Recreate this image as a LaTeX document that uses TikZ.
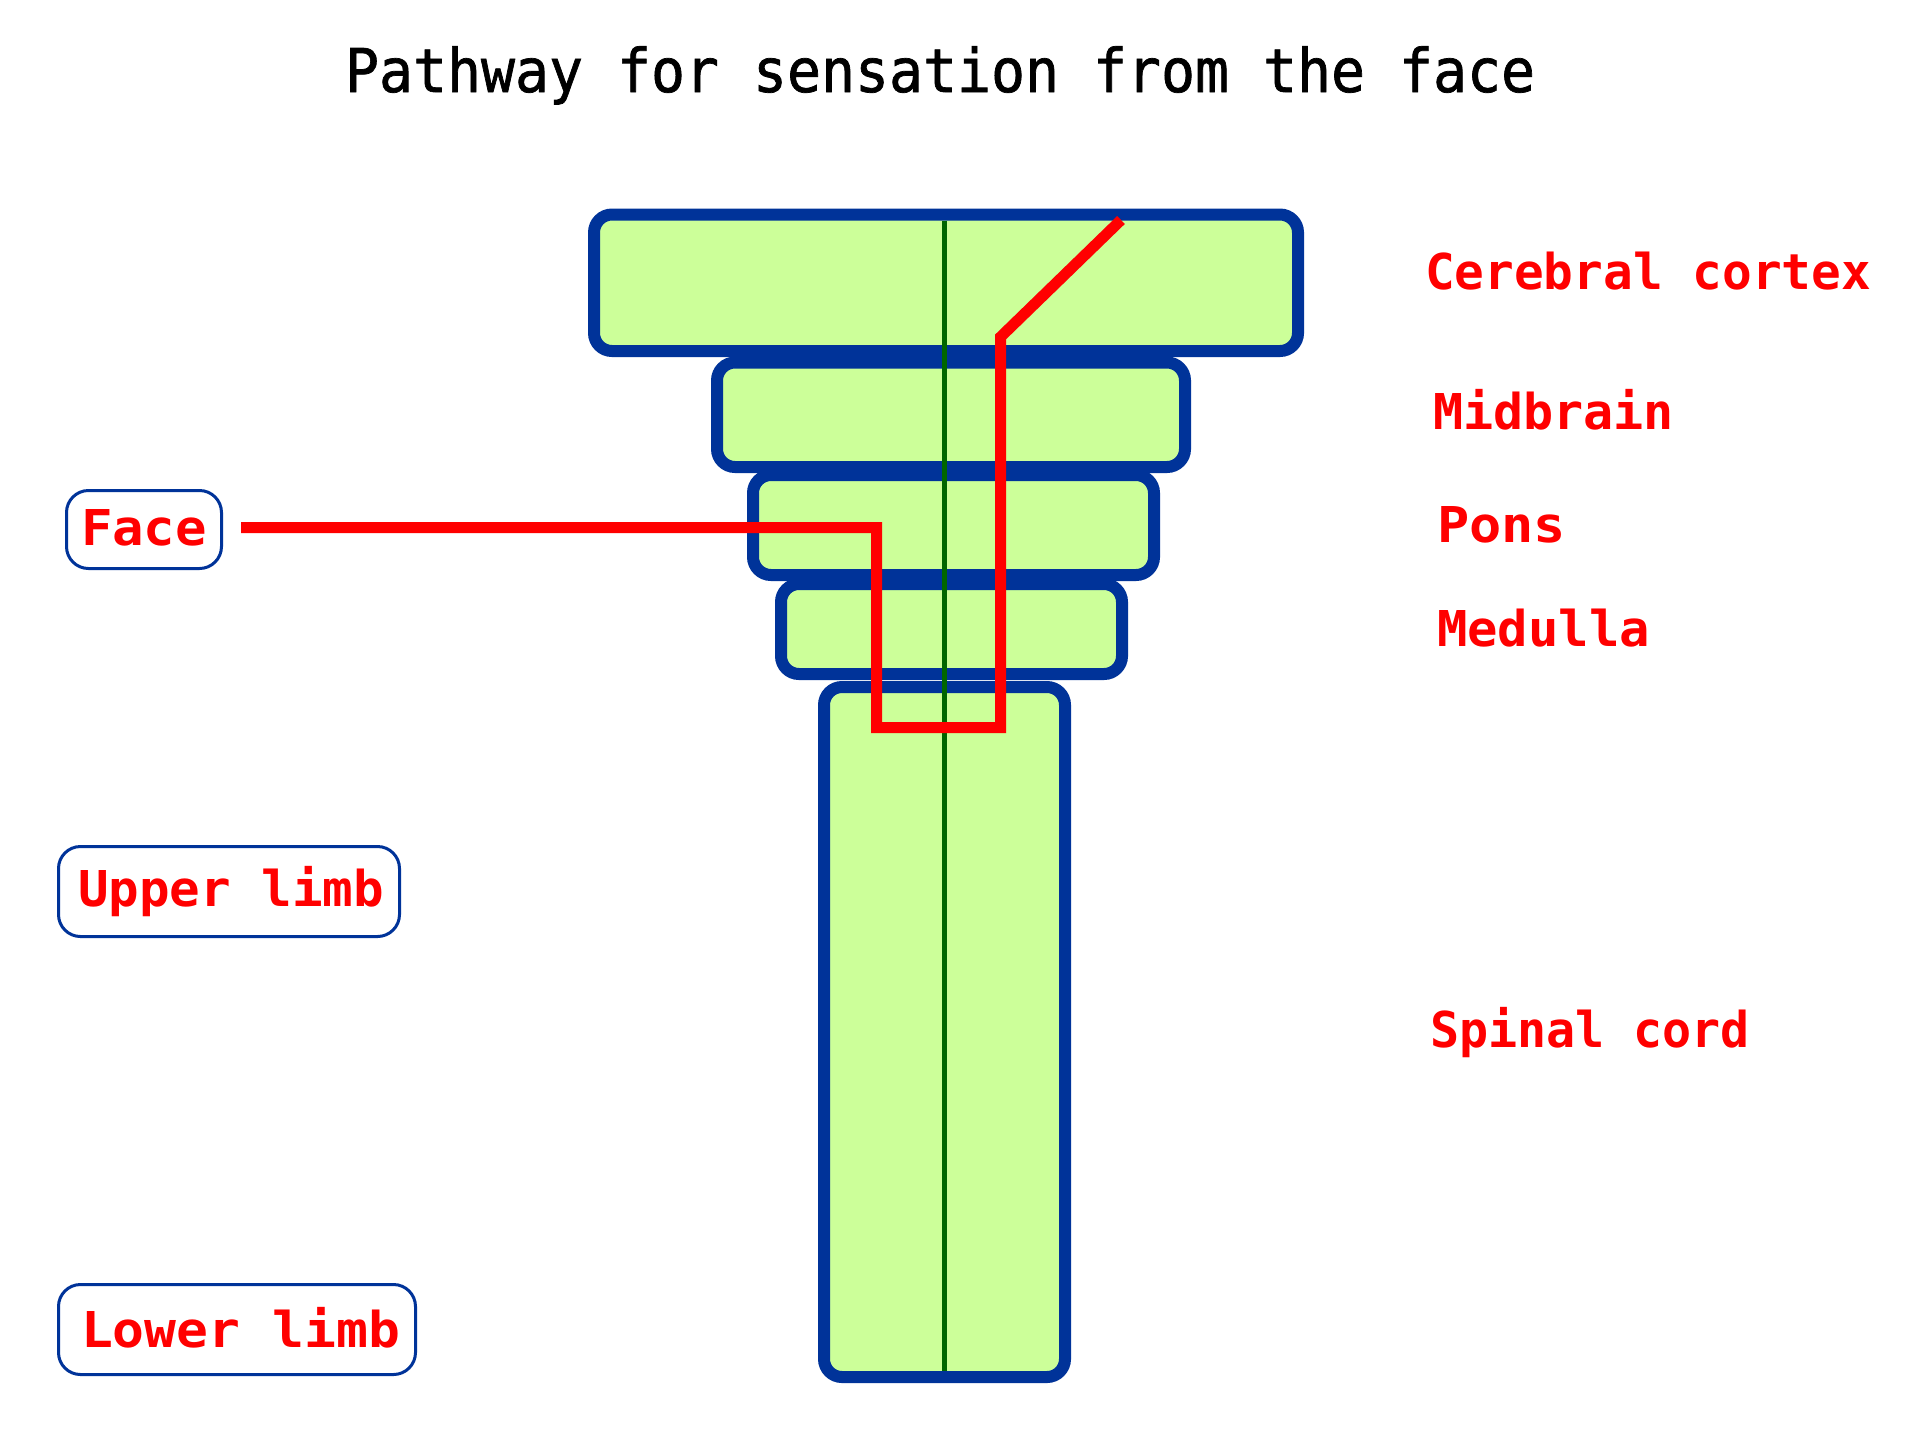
\documentclass[tikz,border=0pt]{standalone}
\usepackage{fontspec}
\usepackage{graphicx}
\setmonofont{DejaVu Sans Mono}
\newfontfamily\lblfont{DejaVu Sans Mono Bold}
\newfontfamily\ttlfont[FakeBold=1.2]{DejaVu Sans Mono}
\definecolor{bodyblue}{HTML}{003399}
\definecolor{bodyfill}{HTML}{CCFF99}
\definecolor{midgreen}{HTML}{006600}
\definecolor{pathred}{HTML}{FF0000}
\newcommand\capbox[1]{\raisebox{0pt}[\fontcharht\font`\C]{#1}}
\newcommand\lbl[3]{\resizebox{#1}{#2}{\capbox{#3}}}
\begin{document}
\begin{tikzpicture}[x=0.5pt,y=-0.5pt,
  part/.style={draw=bodyblue, fill=bodyfill, line width=6pt, rounded corners=9pt,
    rectangle, inner sep=0pt, outer sep=0pt},
  lbox/.style={draw=bodyblue, line width=1.5pt, rounded corners=11pt,
    rectangle, inner sep=0pt, outer sep=0pt},
  txt/.style={inner sep=0pt, outer sep=0pt, anchor=base west, text=pathred, font=\lblfont},
  ttl/.style={inner sep=0pt, outer sep=0pt, anchor=base west, text=black, font=\ttlfont},
  nerve/.style={draw=pathred, line width=5.5pt, line join=miter},
  midline/.style={draw=midgreen, line width=2.5pt}
]
\fill[white] (0,0) rectangle (1920,1431);
\useasboundingbox (0,0) rectangle (1920,1431);

% title
\node[ttl] (title) at (345,92) {\lbl{595pt}{22pt}{Pathway for sensation from the face}};

% brain stem parts
\node[part, minimum width=352pt, minimum height=68.25pt] (cortex) at (946,282.75) {};
\node[part, minimum width=234pt, minimum height=52.25pt] (midbrain) at (951,414.75) {};
\node[part, minimum width=200.5pt, minimum height=50pt] (pons) at (953.5,525) {};
\node[part, minimum width=170.5pt, minimum height=45pt] (medulla) at (951.5,629) {};
\node[part, minimum width=120.5pt, minimum height=345pt] (spinal) at (944.5,1032) {};

% midline
\coordinate (mtop) at (944,220.5);
\coordinate (mbot) at (944,1371);
\draw[midline] (mtop) -- (mbot);

% left label boxes
\node[lbox, minimum width=77.5pt, minimum height=39pt] (facebox) at (144,529.5) {};
\node[lbox, minimum width=170.5pt, minimum height=45pt] (upperbox) at (229,891.5) {};
\node[lbox, minimum width=178.5pt, minimum height=45pt] (lowerbox) at (237,1329.5) {};
\node[txt] (facetxt) at (81,545) {\lbl{63pt}{18pt}{Face}};
\node[txt] (uppertxt) at (78,906) {\lbl{153pt}{18pt}{Upper limb}};
\node[txt] (lowertxt) at (81,1347) {\lbl{159.5pt}{18pt}{Lower limb}};

% right labels
\node[txt] (cortextxt) at (1425,289) {\lbl{223pt}{18pt}{Cerebral cortex}};
\node[txt] (midtxt) at (1433,429) {\lbl{120.5pt}{18pt}{Midbrain}};
\node[txt] (ponstxt) at (1437,542) {\lbl{64.5pt}{18pt}{Pons}};
\node[txt] (medtxt) at (1437,646) {\lbl{106.5pt}{18pt}{Medulla}};
\node[txt] (spinaltxt) at (1430,1047) {\lbl{160pt}{18pt}{Spinal cord}};

% pathway
\coordinate (p0) at (241,527.5);
\coordinate (p1) at (876.5,527.5);
\coordinate (p2) at (876.5,727.5);
\coordinate (p3) at (1000.5,727.5);
\coordinate (p4) at (1000.5,337);
\coordinate (p5) at (1121,220);
\draw[nerve] (p0) -- (p1) -- (p2) -- (p3) -- (p4) -- (p5);
\end{tikzpicture}
\end{document}
